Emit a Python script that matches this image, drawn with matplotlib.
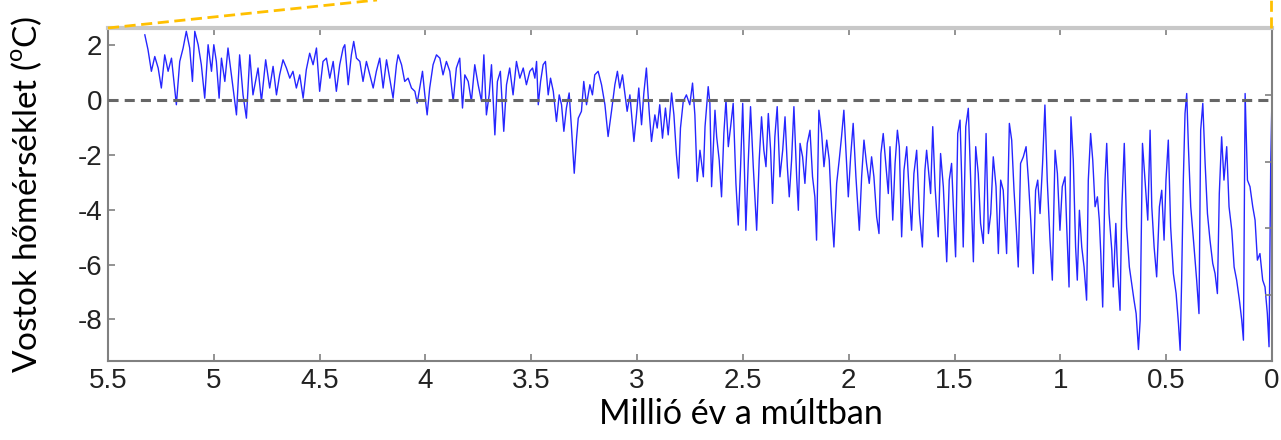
import matplotlib
matplotlib.use("Agg")
import matplotlib.pyplot as plt
from matplotlib.lines import Line2D
from matplotlib.ticker import FormatStrFormatter

plt.rcParams['axes.unicode_minus'] = False
plt.rcParams['mathtext.fontset'] = 'custom'
plt.rcParams['mathtext.rm'] = 'Lato'

# age in million years before present
age = [
    # 5.3 - 4.45
    5.326, 5.311, 5.295, 5.279, 5.263, 5.248, 5.232, 5.216, 5.200, 5.177,
    5.161, 5.145, 5.130, 5.114, 5.101, 5.090, 5.074, 5.059, 5.043, 5.027,
    5.011, 5.000, 4.988, 4.975, 4.964, 4.948, 4.933, 4.917, 4.893, 4.878,
    4.862, 4.846, 4.830, 4.815, 4.791, 4.775, 4.755, 4.736, 4.720, 4.704,
    4.689, 4.673, 4.657, 4.641, 4.626, 4.610, 4.594, 4.578, 4.563, 4.547,
    4.531, 4.515, 4.500, 4.484, 4.468, 4.452,
    # 4.45 - 3.55
    4.436, 4.421, 4.405, 4.389, 4.381, 4.365, 4.350, 4.339, 4.326, 4.310,
    4.295, 4.279, 4.263, 4.247, 4.232, 4.216, 4.200, 4.184, 4.169, 4.153,
    4.137, 4.129, 4.113, 4.098, 4.082, 4.066, 4.050, 4.039, 4.027, 4.014,
    4.003, 3.992, 3.980, 3.964, 3.948, 3.932, 3.917, 3.901, 3.885, 3.869,
    3.854, 3.838, 3.825, 3.814, 3.798, 3.783, 3.767, 3.751, 3.735, 3.724,
    3.712, 3.699, 3.688, 3.672, 3.660, 3.646, 3.630, 3.617, 3.602, 3.586,
    3.570, 3.554,
    # 3.55 - 2.7
    3.538, 3.523, 3.507, 3.494, 3.483, 3.475, 3.467, 3.456, 3.444, 3.433,
    3.420, 3.409, 3.396, 3.381, 3.368, 3.357, 3.346, 3.334, 3.321, 3.310,
    3.297, 3.286, 3.278, 3.263, 3.252, 3.239, 3.223, 3.211, 3.200, 3.184,
    3.168, 3.152, 3.137, 3.121, 3.105, 3.093, 3.082, 3.069, 3.058, 3.047,
    3.034, 3.015, 3.003, 2.992, 2.979, 2.968, 2.956, 2.943, 2.932, 2.916,
    2.905, 2.893, 2.880, 2.866, 2.853, 2.837, 2.826, 2.814, 2.804, 2.795,
    2.782, 2.767, 2.751, 2.738, 2.727, 2.716,
    # 2.7 - 1.8
    2.703, 2.687, 2.679, 2.664, 2.656, 2.648, 2.632, 2.624, 2.612, 2.601,
    2.590, 2.580, 2.569, 2.558, 2.546, 2.533, 2.522, 2.511, 2.501, 2.495,
    2.486, 2.475, 2.464, 2.451, 2.435, 2.423, 2.412, 2.401, 2.391, 2.380,
    2.369, 2.360, 2.349, 2.338, 2.325, 2.312, 2.301, 2.290, 2.281, 2.270,
    2.259, 2.246, 2.238, 2.230, 2.218, 2.207, 2.196, 2.183, 2.171, 2.160,
    2.152, 2.141, 2.128, 2.117, 2.104, 2.092, 2.081, 2.070, 2.057, 2.045,
    2.034, 2.023, 2.010, 2.002, 1.991, 1.979, 1.966, 1.950, 1.939, 1.928,
    1.916, 1.903, 1.892, 1.881, 1.868, 1.857, 1.848, 1.837, 1.824, 1.813,
    # 1.8 - 0.88
    1.805, 1.792, 1.781, 1.770, 1.761, 1.750, 1.739, 1.726, 1.715, 1.703,
    1.692, 1.679, 1.666, 1.652, 1.640, 1.632, 1.619, 1.613, 1.603, 1.592,
    1.577, 1.566, 1.553, 1.537, 1.525, 1.514, 1.503, 1.495, 1.485, 1.474,
    1.466, 1.459, 1.447, 1.435, 1.424, 1.411, 1.400, 1.388, 1.377, 1.364,
    1.351, 1.340, 1.329, 1.317, 1.304, 1.293, 1.282, 1.270, 1.254, 1.241,
    1.230, 1.219, 1.207, 1.199, 1.188, 1.175, 1.162, 1.151, 1.140, 1.128,
    1.117, 1.107, 1.096, 1.084, 1.073, 1.062, 1.049, 1.038, 1.025, 1.014,
    1.002, 0.991, 0.978, 0.970, 0.959, 0.950, 0.939, 0.928, 0.920, 0.910,
    0.899, 0.888, 0.876,
    # 0.87 - 0
    0.868, 0.857, 0.847, 0.836, 0.825, 0.816, 0.809, 0.800, 0.789, 0.781,
    0.770, 0.757, 0.750, 0.738, 0.731, 0.718, 0.710, 0.698, 0.687, 0.674,
    0.663, 0.652, 0.642, 0.631, 0.623, 0.612, 0.600, 0.587, 0.576, 0.568,
    0.557, 0.545, 0.532, 0.521, 0.510, 0.501, 0.490, 0.479, 0.466, 0.453,
    0.442, 0.434, 0.427, 0.419, 0.411, 0.403, 0.395, 0.384, 0.371, 0.356,
    0.345, 0.337, 0.327, 0.316, 0.305, 0.293, 0.280, 0.269, 0.258, 0.249,
    0.238, 0.227, 0.214, 0.203, 0.190, 0.179, 0.167, 0.154, 0.143, 0.135,
    0.127, 0.116, 0.104, 0.091, 0.080, 0.069, 0.057, 0.044, 0.033, 0.022,
    0.014, 0.006, 0.001,
]

# Vostok temperature anomaly, deg C
temp = [
    2.38, 1.84, 1.05, 1.59, 1.17, 0.44, 1.65, 1.05, 1.53, -0.17,
    1.41, 1.90, 2.51, 1.90, 0.68, 2.51, 2.02, 1.29, 0.07, 2.02,
    1.05, 2.02, 1.41, 0.07, 1.53, 0.68, 1.90, 0.92, -0.54, 1.65,
    0.19, -0.66, 1.65, 0.19, 1.17, -0.05, 1.47, 0.44, 1.23, 0.19,
    0.92, 1.47, 1.17, 0.80, 1.05, 0.44, 0.92, 0.07, 1.11, 1.71,
    1.29, 1.90, 0.32, 1.41, 1.53, 0.80,

    1.41, 0.32, 1.29, 1.90, 2.02, 0.56, 1.65, 2.14, 1.53, 1.41,
    0.68, 1.41, 0.92, 0.44, 1.05, 1.53, 0.44, 1.47, 0.80, 0.07,
    1.29, 1.65, 1.29, 0.68, 0.80, 0.44, 0.32, -0.11, 0.44, 1.05,
    0.19, -0.54, 0.44, 1.29, 1.65, 1.53, 0.92, 1.41, 1.05, -0.05,
    1.17, 1.53, -0.29, 0.92, 0.68, -0.05, 1.29, 0.56, -0.05, 1.65,
    -0.54, 0.19, 1.29, -1.27, 0.68, 1.05, -1.14, 0.56, 1.17, 0.19,
    1.41, 0.80,

    1.17, 0.56, 1.05, 1.17, 0.80, 1.41, -0.17, 0.68, 1.29, 1.41,
    0.19, 0.80, 0.32, -0.78, 0.19, -0.17, -1.14, -0.29, 0.26, -1.02,
    -2.67, -1.39, -0.66, -0.41, 0.68, -0.17, 0.56, 0.19, 0.92, 1.05,
    0.56, -0.17, -1.33, -0.41, 0.56, 1.05, 0.44, 0.92, 0.26, -0.41,
    0.19, -1.51, -0.54, 0.44, -0.90, 0.26, 1.17, -0.41, -1.51, -0.54,
    -1.02, -0.17, -1.39, -0.29, -1.27, 0.26, -0.54, -2.00, -2.85, -1.02,
    -0.05, 0.19, -0.17, 0.62, -0.54, -2.97,

    -1.83, -2.80, -0.97, 0.49, -0.12, -3.16, -0.37, -1.34, -2.19, -3.53,
    -1.22, 0.00, -1.70, -0.97, -0.12, -3.04, -4.56, -2.43, -0.12, -1.83,
    -4.75, -2.31, -0.24, -2.43, -4.75, -2.19, -0.61, -1.83, -2.43, -0.49,
    -1.83, -3.77, -1.34, -0.24, -2.80, -1.83, -0.61, -2.43, -3.53, -2.19,
    -0.24, -2.80, -4.02, -1.58, -2.07, -3.04, -1.58, -1.10, -2.80, -3.53,
    -5.11, -0.37, -1.22, -2.43, -1.46, -2.19, -4.02, -5.36, -3.04, -2.19,
    -1.34, -0.37, -2.31, -3.53, -2.07, -0.85, -2.80, -4.75, -2.80, -1.46,
    -2.31, -3.04, -2.07, -2.80, -4.26, -4.87, -1.95, -1.22, -2.43, -3.41,

    -1.70, -4.38, -2.31, -1.10, -1.70, -4.99, -2.56, -1.70, -3.29, -4.75,
    -2.68, -1.83, -4.14, -5.36, -2.56, -1.83, -2.92, -3.41, -0.97, -3.16,
    -4.99, -1.95, -3.16, -5.90, -2.92, -2.31, -4.38, -5.72, -1.22, -0.73,
    -2.92, -5.36, -0.97, -0.30, -2.92, -5.90, -1.70, -2.68, -4.50, -5.23,
    -1.22, -4.87, -4.14, -2.07, -3.16, -5.60, -2.92, -3.29, -5.60, -0.85,
    -1.46, -3.29, -4.87, -6.09, -2.31, -2.07, -1.70, -2.92, -4.38, -6.33,
    -3.29, -2.92, -4.14, -2.31, -0.18, -2.92, -5.11, -6.57, -1.83, -2.68,
    -4.75, -3.16, -2.80, -4.62, -6.82, -0.61, -2.19, -5.36, -6.57, -4.02,
    -5.36, -6.09, -7.30,

    -2.92, -1.22, -2.19, -3.89, -3.53, -4.38, -5.60, -7.55, -2.92, -1.58,
    -4.14, -5.48, -6.82, -4.50, -5.96, -7.67, -4.02, -1.58, -4.62, -6.09,
    -6.69, -7.30, -7.79, -9.10, -8.03, -1.58, -2.92, -4.38, -1.10, -3.89,
    -5.36, -6.45, -3.89, -3.29, -5.11, -2.92, -1.46, -4.62, -6.33, -7.06,
    -8.15, -9.13, -6.57, -2.92, -0.49, 0.24, -1.70, -3.89, -5.11, -6.57,
    -7.79, -1.10, -0.12, -2.31, -4.14, -5.11, -5.96, -6.33, -7.06, -3.41,
    -1.34, -2.92, -1.70, -3.89, -4.75, -6.09, -6.57, -7.30, -8.03, -8.76,
    0.24, -2.92, -3.16, -3.89, -4.38, -5.84, -5.60, -6.57, -6.82, -7.79,
    -9.00, -2.31, -0.24,
]

x_ticks = [5.5, 5, 4.5, 4, 3.5, 3, 2.5, 2, 1.5, 1, 0.5, 0]
y_ticks = [2, 0, -2, -4, -6, -8]

W, H = 1281, 440
fig = plt.figure(figsize=(W / 100, H / 100), dpi=100)
ax = fig.add_axes([108 / W, 1 - 361 / H, 1164 / W, 333 / H])

ax.plot(age, temp, color='#0000ff', lw=1.0, alpha=0.85, zorder=2)
ax.axhline(0, color='#666666', lw=2.2, dashes=(3.3, 2.0), zorder=3)

ax.set_xlim(5.5, 0)
ax.set_ylim(-9.52, 2.63)
ax.set_xticks(x_ticks)
ax.set_yticks(y_ticks)
ax.xaxis.set_major_formatter(FormatStrFormatter('%g'))

for s in ['left', 'bottom', 'right']:
    ax.spines[s].set_color('#808080')
    ax.spines[s].set_linewidth(1.5)
ax.spines['top'].set_color('#c8c8c8')
ax.spines['top'].set_linewidth(3)

ax.tick_params(direction='in', length=5, width=1.2, color='#808080',
               labelsize=20, top=True, right=False)
ax.tick_params(axis='x', pad=5)
ax.tick_params(axis='y', pad=4)
for lab in ax.get_xticklabels() + ax.get_yticklabels():
    lab.set_fontfamily('Liberation Sans')
    lab.set_color('#222222')

# small ticks on the right edge
ax2 = ax.twinx()
ax2.set_ylim(ax.get_ylim())
ax2.set_yticks([0.18, -2.26, -4.67, -7.12])
ax2.set_yticklabels([])
ax2.tick_params(direction='in', length=5, width=1.2, color='#808080')
for s in ax2.spines.values():
    s.set_visible(False)

ax.set_xlabel('Millió év a múltban', fontsize=24.5, family=['Lato', 'DejaVu Sans'])
ax.xaxis.set_label_coords(0.544, -0.112)
ax.set_ylabel(r'Vostok hőmérséklet ($^{\mathrm{o}}$C)', fontsize=24,
              family=['Lato', 'DejaVu Sans'])
ax.yaxis.set_label_coords(-0.055, 0.5)

# orange zoom-connector lines
fig.add_artist(Line2D([108 / W, 377 / W], [1 - 28 / H, 1.0], transform=fig.transFigure,
                      color='#FFC000', lw=2, dashes=(4, 2)))
fig.add_artist(Line2D([1271 / W, 1271 / W], [1 - 28 / H, 1.0], transform=fig.transFigure,
                      color='#FFC000', lw=2, dashes=(4, 2)))

fig.savefig('out.png', dpi=100)
